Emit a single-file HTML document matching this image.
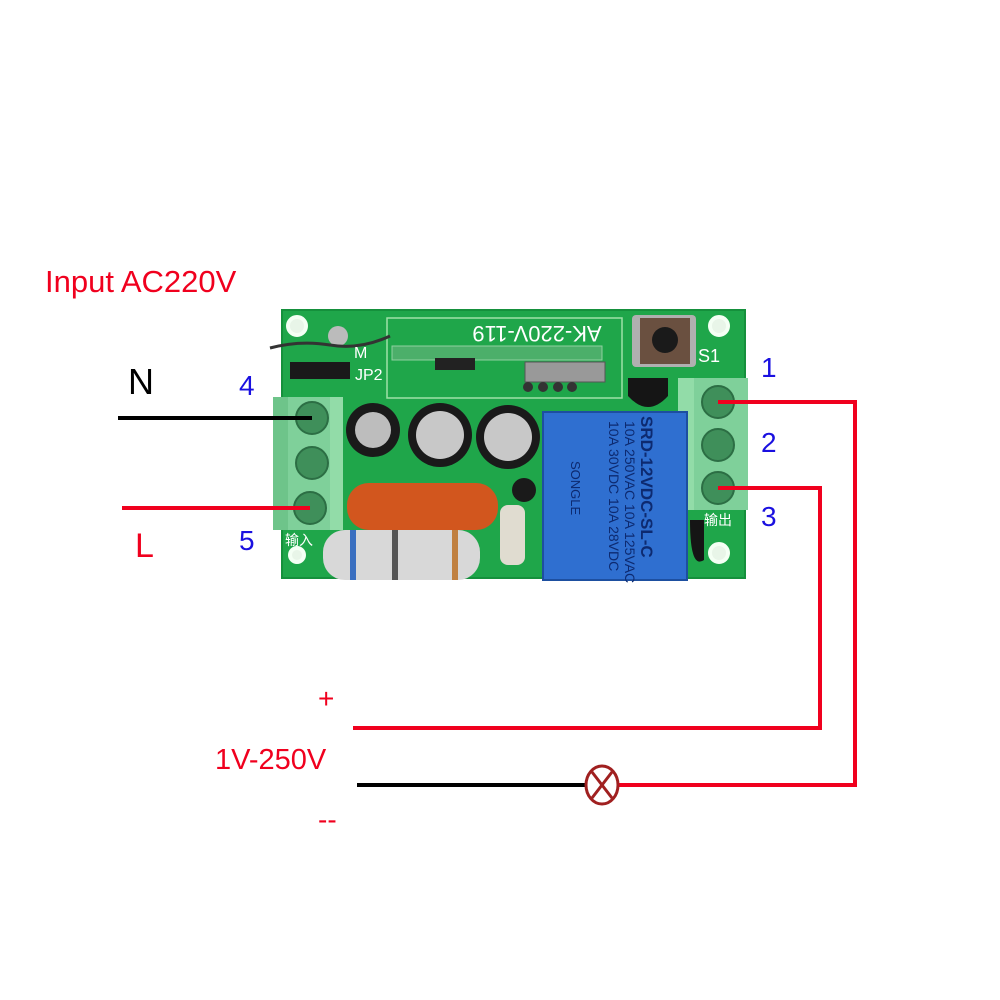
<!DOCTYPE html>
<html><head><meta charset="utf-8"><style>
html,body{margin:0;padding:0;background:#fff;width:1000px;height:1000px;overflow:hidden}
text{font-family:"Liberation Sans","Noto Sans CJK SC",sans-serif}
</style></head><body>
<svg width="1000" height="1000" viewBox="0 0 1000 1000" xmlns="http://www.w3.org/2000/svg">
<rect width="1000" height="1000" fill="#fff"/>
<!-- board -->
<rect x="282" y="310" width="463" height="268" fill="#1fa64a"/>
<rect x="282" y="310" width="463" height="268" fill="none" stroke="#15903c" stroke-width="2"/>
<!-- holes -->
<g fill="#e8f5e8" stroke="#f4fff4" stroke-width="4">
<circle cx="297" cy="326" r="9"/><circle cx="719" cy="326" r="9"/><circle cx="719" cy="553" r="9"/><circle cx="297" cy="555" r="7"/>
</g>
<!-- top module -->
<rect x="387" y="318" width="235" height="80" fill="none" stroke="#9fe0a8" stroke-width="1.5"/>
<rect x="392" y="346" width="210" height="14" fill="#4caf6a" stroke="#8fd0a0"/>
<text x="537" y="332" font-size="22" fill="#fff" text-anchor="middle" dominant-baseline="middle" transform="rotate(180 537 332)" font-family="Liberation Serif">AK-220V-119</text>
<rect x="525" y="362" width="80" height="20" fill="#999" stroke="#555"/>
<rect x="435" y="358" width="40" height="12" fill="#222"/>
<g fill="#333"><circle cx="528" cy="387" r="5"/><circle cx="543" cy="387" r="5"/><circle cx="558" cy="387" r="5"/><circle cx="572" cy="387" r="5"/></g>
<!-- button -->
<rect x="632" y="315" width="64" height="52" fill="#b0b0b0" rx="4"/>
<rect x="640" y="318" width="50" height="46" fill="#6a5040"/>
<circle cx="665" cy="340" r="13" fill="#1a1a1a"/>
<text x="698" y="362" font-size="18" fill="#fff" font-family="Liberation Serif">S1</text>
<!-- LED and jumper -->
<circle cx="338" cy="336" r="10" fill="#bbb"/>
<path d="M270 348 Q300 340 330 345 T390 336" stroke="#333" stroke-width="3" fill="none"/>
<rect x="290" y="362" width="60" height="17" fill="#1a1a1a"/>
<text x="355" y="380" font-size="16" fill="#fff" font-family="Liberation Serif">JP2</text>
<text x="354" y="358" font-size="16" fill="#fff" font-family="Liberation Serif">M</text>
<!-- transistor -->
<path d="M628 378 h40 v18 q-20 22 -40 0z" fill="#151515"/>
<path d="M690 520 h14 v40 q-14 10 -14 -40z" fill="#151515"/>
<!-- left terminal -->
<rect x="273" y="397" width="70" height="133" fill="#7fd09a"/>
<rect x="273" y="397" width="15" height="133" fill="#6ec48a"/>
<rect x="330" y="397" width="13" height="133" fill="#92dca8"/>
<g fill="#3f8f5a" stroke="#2c6e44" stroke-width="2">
<circle cx="312" cy="418" r="16"/><circle cx="312" cy="463" r="16"/><circle cx="310" cy="508" r="16"/>
</g>
<text x="285" y="545" font-size="14" fill="#fff">输入</text>
<!-- right terminal -->
<rect x="678" y="378" width="70" height="132" fill="#7fd09a"/>
<rect x="678" y="378" width="16" height="132" fill="#92dca8"/>
<g fill="#3f8f5a" stroke="#2c6e44" stroke-width="2">
<circle cx="718" cy="402" r="16"/><circle cx="718" cy="445" r="16"/><circle cx="718" cy="488" r="16"/>
</g>
<text x="704" y="525" font-size="14" fill="#fff">输出</text>
<!-- capacitors -->
<circle cx="373" cy="430" r="27" fill="#1a1a1a"/><circle cx="373" cy="430" r="18" fill="#bdbdbd"/>
<circle cx="440" cy="435" r="32" fill="#1a1a1a"/><circle cx="440" cy="435" r="24" fill="#c8c8c8"/>
<circle cx="508" cy="437" r="32" fill="#1a1a1a"/><circle cx="508" cy="437" r="24" fill="#c8c8c8"/>
<!-- orange cap -->
<rect x="347" y="483" width="151" height="47" rx="22" fill="#d2561e"/>
<!-- resistor -->
<rect x="323" y="530" width="157" height="50" rx="22" fill="#d8d8d8"/>
<rect x="350" y="530" width="6" height="50" fill="#3a6fc0"/>
<rect x="392" y="530" width="6" height="50" fill="#555"/>
<rect x="452" y="530" width="6" height="50" fill="#c08040"/>
<rect x="500" y="505" width="25" height="60" rx="8" fill="#e0dcd0"/>
<circle cx="524" cy="490" r="12" fill="#1a1a1a"/>
<!-- relay -->
<rect x="543" y="412" width="144" height="168" fill="#2f6fd0"/>
<rect x="543" y="412" width="144" height="168" fill="none" stroke="#1d4fa0" stroke-width="2"/>
<g transform="rotate(90 615 496)" font-size="14" fill="#0d2a70">
<text x="535" y="470" font-weight="bold" font-size="17">SRD-12VDC-SL-C</text>
<text x="540" y="486">10A 250VAC 10A 125VAC</text>
<text x="540" y="502">10A 30VDC 10A 28VDC</text>
<text x="580" y="540" font-size="13">SONGLE</text>
</g>
<!-- wires -->
<g stroke-width="4" fill="none">
<line x1="118" y1="418" x2="312" y2="418" stroke="#000"/>
<line x1="122" y1="508" x2="310" y2="508" stroke="#f0001e"/>
<polyline points="718,402 855,402 855,785 618,785" stroke="#f0001e"/>
<polyline points="718,488 820,488 820,728 353,728" stroke="#f0001e"/>
<line x1="357" y1="785" x2="586" y2="785" stroke="#000"/>
</g>
<!-- lamp -->
<ellipse cx="602" cy="785" rx="16" ry="19" fill="#fff" stroke="#a02020" stroke-width="3"/>
<line x1="592" y1="772" x2="612" y2="798" stroke="#a02020" stroke-width="3"/>
<line x1="612" y1="772" x2="592" y2="798" stroke="#a02020" stroke-width="3"/>
<!-- labels -->
<text x="45" y="292" font-size="31" fill="#f0001e">Input AC220V</text>
<text x="128" y="394" font-size="36" fill="#000">N</text>
<text x="239" y="395" font-size="28" fill="#1a10e0">4</text>
<text x="135" y="557" font-size="34" fill="#f0001e">L</text>
<text x="239" y="550" font-size="28" fill="#1a10e0">5</text>
<text x="761" y="377" font-size="28" fill="#1a10e0">1</text>
<text x="761" y="452" font-size="28" fill="#1a10e0">2</text>
<text x="761" y="526" font-size="28" fill="#1a10e0">3</text>
<text x="318" y="708" font-size="28" fill="#f0001e">+</text>
<text x="215" y="769" font-size="29" fill="#f0001e">1V-250V</text>
<text x="318" y="829" font-size="28" fill="#f0001e">--</text>
</svg>
</body></html>
